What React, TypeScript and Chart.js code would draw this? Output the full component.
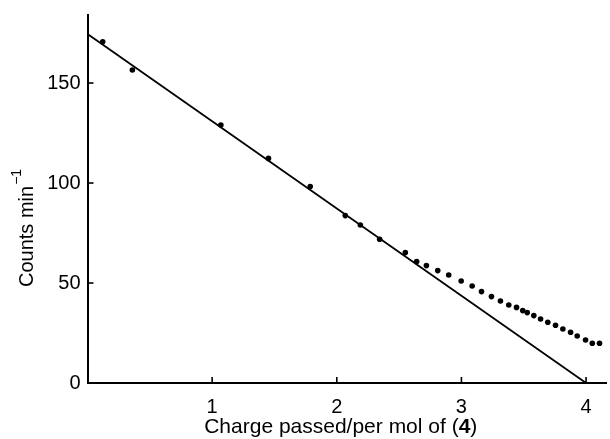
import React, { useEffect, useRef } from "react";
import { Chart, registerables } from "chart.js";

Chart.register(...registerables);

// Measured data points (charge passed per mol, counts per minute)
const chargeX = [0.122, 0.36, 1.07, 1.452, 1.787, 2.068, 2.189, 2.344, 2.55, 2.641, 2.719, 2.81, 2.898, 2.998, 3.086, 3.161, 3.241, 3.313, 3.38, 3.442, 3.492, 3.528, 3.581, 3.635, 3.693, 3.755, 3.814, 3.876, 3.929, 3.996, 4.05, 4.108];
const countsY = [170.6, 156.5, 129, 112.3, 98.2, 83.7, 79, 71.9, 65.2, 60.7, 58.7, 56.2, 54, 51, 48.5, 45.7, 43.2, 41, 39, 37.8, 36.2, 35.2, 33.7, 32, 30.4, 28.9, 27, 25.4, 23.5, 21.5, 19.9, 19.9];

// Fitted straight line
const fitX = [0, 4];
const fitY = [174.5, 0];

// Tick labels
const xTicks = [1, 2, 3, 4];
const yTicks = [0, 50, 100, 150];

const FONT = "'Liberation Sans', Arial, Helvetica, sans-serif";

const decorPlugin = {
  id: "decor",
  afterDraw(chart: any) {
    const ctx = chart.ctx;
    const area = chart.chartArea;
    const xs = chart.scales.x;
    const ys = chart.scales.y;
    ctx.save();
    ctx.strokeStyle = "#000";
    ctx.lineWidth = 1.6;
    // inward tick marks
    for (const v of xTicks) {
      const px = xs.getPixelForValue(v);
      ctx.beginPath();
      ctx.moveTo(px, area.bottom);
      ctx.lineTo(px, area.bottom - 6);
      ctx.stroke();
    }
    for (const v of yTicks) {
      const py = ys.getPixelForValue(v);
      ctx.beginPath();
      ctx.moveTo(area.left, py);
      ctx.lineTo(area.left + 6, py);
      ctx.stroke();
    }
    ctx.fillStyle = "#000";
    // x title
    const parts = [
      { t: "Charge passed/per mol of (", b: false },
      { t: "4", b: true },
      { t: ")", b: false },
    ];
    let total = 0;
    for (const p of parts) {
      ctx.font = (p.b ? "bold " : "") + "21px " + FONT;
      total += ctx.measureText(p.t).width;
    }
    let x = (area.left + area.right) / 2 - 6 - total / 2;
    ctx.textBaseline = "alphabetic";
    ctx.textAlign = "left";
    for (const p of parts) {
      ctx.font = (p.b ? "bold " : "") + "21px " + FONT;
      ctx.fillText(p.t, x, 433);
      x += ctx.measureText(p.t).width;
    }
    // y title
    ctx.translate(33, 287);
    ctx.rotate(-Math.PI / 2);
    ctx.font = "20px " + FONT;
    ctx.fillText("Counts min", 0, 0);
    const w = ctx.measureText("Counts min").width;
    ctx.font = "14px " + FONT;
    ctx.fillText("\u22121", w + 1, -12);
    ctx.restore();
  },
};

const zeroPad = (s: any) => {
  s.paddingTop = 0;
  s.paddingBottom = 0;
  s.paddingLeft = 0;
  s.paddingRight = 0;
};

export default function App() {
  const ref = useRef<HTMLCanvasElement>(null);
  useEffect(() => {
    if (!ref.current) return;
    const chart = new Chart(ref.current, {
      type: "scatter",
      data: {
        datasets: [
          {
            label: "fit",
            data: fitX.map((x, i) => ({ x, y: fitY[i] })),
            showLine: true,
            borderColor: "#000",
            borderWidth: 1.8,
            pointRadius: 0,
            fill: false,
          },
          {
            label: "counts",
            data: chargeX.map((x, i) => ({ x, y: countsY[i] })),
            showLine: false,
            backgroundColor: "#000",
            borderColor: "#000",
            pointRadius: 2.8,
            borderWidth: 0,
          },
        ],
      },
      options: {
        responsive: false,
        animation: false,
        layout: { padding: { top: 15, right: 0, left: 0, bottom: 0 } },
        plugins: {
          legend: { display: false },
          tooltip: { enabled: false },
        },
        scales: {
          x: {
            type: "linear",
            min: 0,
            max: 4.16,
            grid: { display: false, drawTicks: false },
            border: { display: true, color: "#000", width: 2 },
            afterBuildTicks: (s: any) => {
              s.ticks = xTicks.map((v) => ({ value: v }));
            },
            afterFit: (s: any) => {
              s.height = 56;
              zeroPad(s);
            },
            ticks: {
              color: "#000",
              font: { family: FONT, size: 20 },
              padding: 12,
              maxRotation: 0,
              autoSkip: false,
              callback: (v: any) => String(v),
            },
          },
          y: {
            type: "linear",
            min: 0,
            max: 184,
            grid: { display: false, drawTicks: false },
            border: { display: true, color: "#000", width: 2 },
            afterBuildTicks: (s: any) => {
              s.ticks = yTicks.map((v) => ({ value: v }));
            },
            afterFit: (s: any) => {
              s.width = 87.5;
              zeroPad(s);
            },
            ticks: {
              color: "#000",
              font: { family: FONT, size: 20 },
              padding: 7,
              autoSkip: false,
              callback: (v: any) => String(v),
            },
          },
        },
      },
      plugins: [decorPlugin],
    });
    return () => chart.destroy();
  }, []);
  return (
    <div style={{ position: "absolute", left: 0, top: 0, width: 610, height: 439 }}>
      <canvas ref={ref} width={610} height={439} style={{ display: "block" }} />
    </div>
  );
}
